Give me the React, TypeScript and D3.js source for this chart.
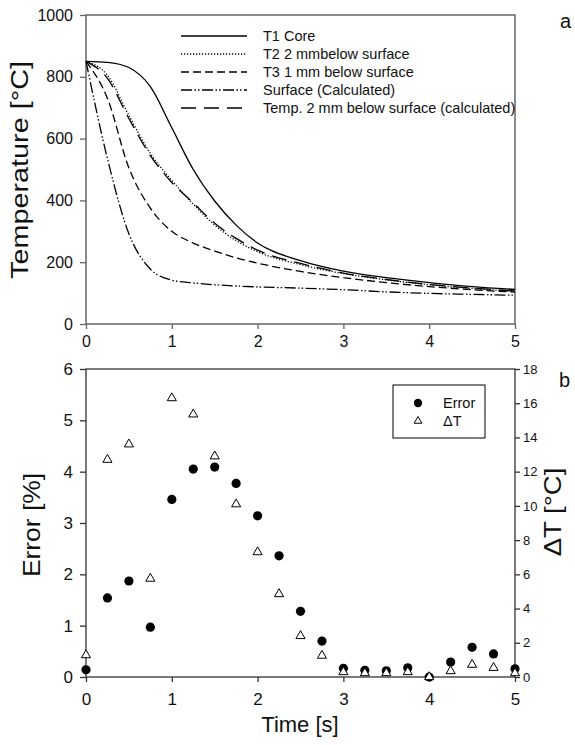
import {useEffect, useRef} from 'react'
import * as d3 from 'd3'

// top panel: cooling curves
const times = [0, 0.25, 0.5, 0.75, 1, 1.25, 1.5, 1.75, 2, 2.5, 3, 3.5, 4, 4.5, 5]
const t1Core = [850, 847, 830, 768, 635, 500, 398, 320, 262, 205, 171, 150, 134, 121, 112]
const t2Below = [850, 805, 675, 552, 465, 388, 320, 270, 234, 192, 163, 143, 127, 115, 106]
const t3Below = [850, 730, 505, 375, 300, 262, 236, 214, 197, 170, 150, 134, 121, 111, 103]
const surfaceCalc = [850, 535, 292, 178, 142, 133, 127, 123, 120, 116, 111, 104, 99, 96, 93]
const temp2Calc = [850, 795, 665, 545, 458, 392, 326, 277, 239, 196, 165, 144, 128, 116, 107]

const seriesNames = [
    'T1 Core',
    'T2 2 mmbelow surface',
    'T3 1 mm below surface',
    'Surface (Calculated)',
    'Temp. 2 mm below surface (calculated)',
]
const seriesDash = ['none', '1.2,1.8', '8,4', '11,2.5,1.5,2,1.5,2.5', '15,8']

// bottom panel: error and delta T samples
const sampleTimes = [0, 0.25, 0.5, 0.75, 1, 1.25, 1.5, 1.75, 2, 2.25, 2.5, 2.75, 3, 3.25, 3.5, 3.75, 4, 4.25, 4.5, 4.75, 5]
const errorPct = [0.14, 1.54, 1.87, 0.97, 3.46, 4.05, 4.09, 3.77, 3.14, 2.36, 1.28, 0.7, 0.17, 0.13, 0.12, 0.18, 0, 0.29, 0.58, 0.45, 0.16]
const deltaT = [1.28, 12.7, 13.6, 5.75, 16.3, 15.35, 12.9, 10.1, 7.3, 4.85, 2.4, 1.25, 0.29, 0.23, 0.23, 0.29, 0, 0.35, 0.72, 0.54, 0.23]

const timeTicks = [0, 1, 2, 3, 4, 5]
const tempTicks = [0, 200, 400, 600, 800, 1000]
const errorTicks = [0, 1, 2, 3, 4, 5, 6]
const dtTicks = [0, 2, 4, 6, 8, 10, 12, 14, 16, 18]

const FONT = '"Liberation Sans", Arial, sans-serif'

function App(){
    const svg = useRef(null)

    useEffect(() => {
        const svgRef = d3.select(svg.current)
        svgRef.selectAll('*').remove()

        const x = d3.scaleLinear().domain([0, 5]).range([86, 515])
        const yTop = d3.scaleLinear().domain([0, 1000]).range([324, 15])
        const yErr = d3.scaleLinear().domain([0, 6]).range([677, 369])
        const yDt = d3.scaleLinear().domain([0, 18]).range([677, 369])

        const styleAxis = (g, color, size) => {
            g.select('.domain').remove()
            g.selectAll('line').attr('stroke', color).attr('stroke-width', 1.3)
            g.selectAll('text')
                .attr('fill', '#111')
                .style('font-family', FONT)
                .style('font-size', size + 'px')
        }

        //---------- top panel ----------
        const top = svgRef.append('g')

        top.append('g')
            .attr('transform', 'translate(0,324)')
            .call(d3.axisBottom(x).tickValues(timeTicks).tickFormat(d3.format('d')).tickSize(5).tickSizeOuter(0).tickPadding(7))
            .call(g => styleAxis(g, '#666', 16))
        top.append('g')
            .attr('transform', 'translate(86,0)')
            .call(d3.axisLeft(yTop).tickValues(tempTicks).tickFormat(d3.format('d')).tickSize(6).tickSizeOuter(0).tickPadding(7))
            .call(g => styleAxis(g, '#666', 16))

        top.append('rect')
            .attr('x', 86).attr('y', 15)
            .attr('width', 429).attr('height', 309)
            .attr('fill', 'none')
            .attr('stroke', '#666')
            .attr('stroke-width', 1.5)

        const allSeries = [t1Core, t2Below, t3Below, surfaceCalc, temp2Calc]
        const line = d3.line()
            .x((d, i) => x(times[i]))
            .y(d => yTop(d))
            .curve(d3.curveMonotoneX)

        allSeries.forEach((values, i) => {
            top.append('path')
                .attr('d', line(values))
                .attr('fill', 'none')
                .attr('stroke', '#000')
                .attr('stroke-width', 1.3)
                .attr('stroke-dasharray', seriesDash[i])
        })

        //legend
        seriesNames.forEach((name, i) => {
            const ly = 36 + i * 18
            top.append('line')
                .attr('x1', 181).attr('x2', 247)
                .attr('y1', ly).attr('y2', ly)
                .attr('stroke', '#000')
                .attr('stroke-width', 1.3)
                .attr('stroke-dasharray', seriesDash[i])
            top.append('text')
                .attr('x', 263).attr('y', ly)
                .attr('dy', '0.35em')
                .style('font', `14.5px ${FONT}`)
                .attr('fill', '#111')
                .text(name)
        })

        top.append('text')
            .attr('transform', 'translate(28,170) rotate(-90) scale(1.2,1)')
            .attr('text-anchor', 'middle')
            .style('font', `24px ${FONT}`)
            .attr('fill', '#111')
            .text('Temperature [°C]')

        top.append('text')
            .attr('x', 560).attr('y', 28)
            .style('font', `20px ${FONT}`)
            .attr('fill', '#111')
            .text('a')

        //---------- bottom panel ----------
        const bot = svgRef.append('g')

        bot.append('g')
            .attr('transform', 'translate(0,677)')
            .call(d3.axisBottom(x).tickValues(timeTicks).tickFormat(d3.format('d')).tickSize(5).tickSizeOuter(0).tickPadding(11))
            .call(g => styleAxis(g, '#333', 17))
        bot.append('g')
            .attr('transform', 'translate(86,0)')
            .call(d3.axisLeft(yErr).tickValues(errorTicks).tickFormat(d3.format('d')).tickSize(6).tickSizeOuter(0).tickPadding(7))
            .call(g => styleAxis(g, '#333', 17))
        bot.append('g')
            .attr('transform', 'translate(515,0)')
            .call(d3.axisRight(yDt).tickValues(dtTicks).tickFormat(d3.format('d')).tickSize(5).tickSizeOuter(0).tickPadding(3))
            .call(g => styleAxis(g, '#333', 13))

        bot.append('rect')
            .attr('x', 86).attr('y', 369)
            .attr('width', 429).attr('height', 308)
            .attr('fill', 'none')
            .attr('stroke', '#333')
            .attr('stroke-width', 1.3)

        bot.selectAll('circle.err')
            .data(errorPct)
            .join('circle')
                .attr('class', 'err')
                .attr('cx', (d, i) => x(sampleTimes[i]))
                .attr('cy', d => yErr(d))
                .attr('r', 4.6)
                .attr('fill', '#000')

        const tri = d3.symbol(d3.symbolTriangle, 36)
        bot.selectAll('path.dt')
            .data(deltaT)
            .join('path')
                .attr('class', 'dt')
                .attr('transform', (d, i) => `translate(${x(sampleTimes[i])},${yDt(d)})`)
                .attr('d', tri())
                .attr('fill', '#fff')
                .attr('stroke', '#000')
                .attr('stroke-width', 1)

        //legend box
        bot.append('rect')
            .attr('x', 393).attr('y', 385)
            .attr('width', 92).attr('height', 53)
            .attr('fill', '#fff')
            .attr('stroke', '#000')
            .attr('stroke-width', 1)
        bot.append('circle')
            .attr('cx', 418).attr('cy', 403)
            .attr('r', 4.2)
            .attr('fill', '#000')
        bot.append('path')
            .attr('transform', 'translate(418,421)')
            .attr('d', d3.symbol(d3.symbolTriangle, 26)())
            .attr('fill', '#fff')
            .attr('stroke', '#000')
        bot.append('text')
            .attr('x', 443).attr('y', 403).attr('dy', '0.35em')
            .style('font', `14.5px ${FONT}`)
            .attr('fill', '#111')
            .text('Error')
        bot.append('text')
            .attr('x', 443).attr('y', 421).attr('dy', '0.35em')
            .style('font', `14.5px ${FONT}`)
            .attr('fill', '#111')
            .text('ΔT')

        bot.append('text')
            .attr('transform', 'translate(40,525) rotate(-90) scale(1.15,1)')
            .attr('text-anchor', 'middle')
            .style('font', `23px ${FONT}`)
            .attr('fill', '#111')
            .text('Error [%]')

        bot.append('text')
            .attr('transform', 'translate(561,512) rotate(-90) scale(1.2,1)')
            .attr('text-anchor', 'middle')
            .style('font', `23px ${FONT}`)
            .attr('fill', '#111')
            .text('ΔT [°C]')

        bot.append('text')
            .attr('x', 300).attr('y', 732)
            .attr('text-anchor', 'middle')
            .style('font', `22px ${FONT}`)
            .attr('fill', '#111')
            .text('Time [s]')

        bot.append('text')
            .attr('x', 559).attr('y', 387)
            .style('font', `20px ${FONT}`)
            .attr('fill', '#111')
            .text('b')
    }, [])

    return (
        <svg ref={svg} width={575} height={745}
            style={{position: 'absolute', left: 0, top: 0, background: '#fff'}}></svg>
    )
}

export default App
